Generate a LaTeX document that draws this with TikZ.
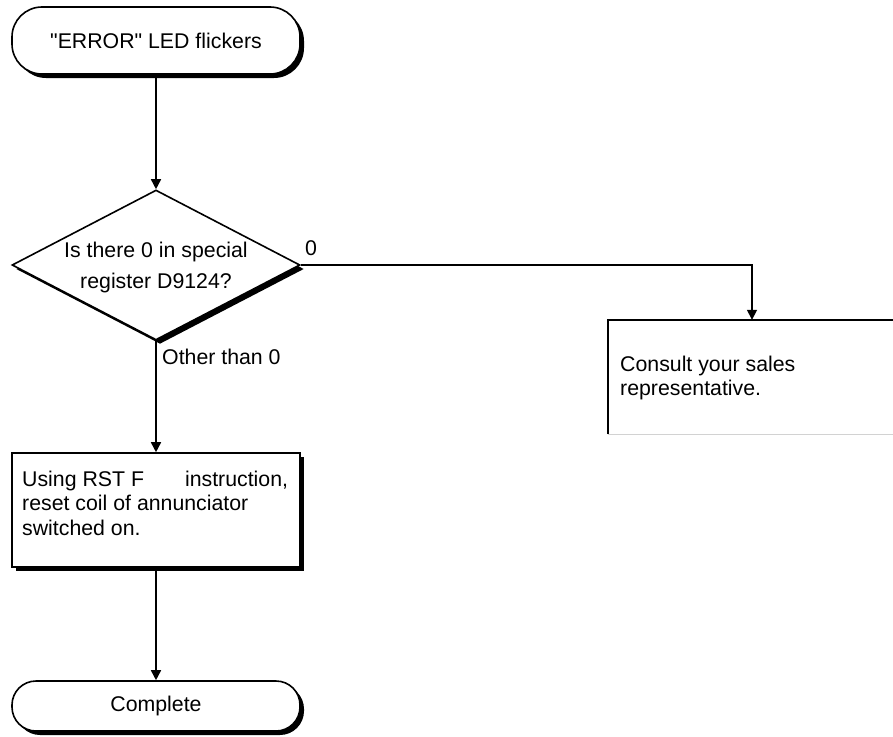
\documentclass[tikz,border=0pt]{standalone}
\usepackage{fontspec}
\setmainfont{Liberation Sans}
\usetikzlibrary{shapes.geometric,shadows,arrows.meta}
\begin{document}
\begin{tikzpicture}[x=1pt,y=-1pt,
  every node/.style={font=\fontsize{21.3}{24.5}\selectfont},
  outl/.style={draw=black,line width=1.6pt,fill=white},
  shad/.style={general shadow={fill=black,shadow xshift=4pt,shadow yshift=-4pt}},
  termbox/.style={outl,shad,rectangle,minimum width=288pt,inner sep=0pt},
  procbox/.style={outl,shad,rectangle,minimum width=288pt,minimum height=114pt,inner sep=0pt},
  decbox/.style={outl,shad,diamond,minimum width=288pt,minimum height=150pt,inner sep=0pt},
  txt/.style={inner sep=0pt,align=left},
  arr/.style={line width=1.6pt,-{Triangle[width=10pt,length=10pt]}}]
\useasboundingbox (0,0) rectangle (893,736);

\node[termbox,minimum height=67pt,rounded corners=30pt] (start) at (156,40.5) {\textquotedbl ERROR\textquotedbl\ LED flickers};
\node[decbox] (dia) at (156,265) {};
\node[txt,align=center,font=\fontsize{21.3}{31}\selectfont] (diatext) at (156,267.5) {Is there 0 in special\\register D9124?};

\node[draw=none,minimum width=288pt,minimum height=114pt,inner sep=0pt] (consult) at (752,377) {};
\draw[line width=1.6pt] (consult.south west) -- (consult.north west) -- (consult.north east);
\draw[gray!35,line width=0.6pt] (consult.south west) -- (consult.south east);
\node[txt,anchor=west] (consulttext) at (620,378) {Consult your sales\\representative.};

\node[procbox] (reset) at (156,510) {};
\node[txt,anchor=west] (resettext) at (22,503) {Using RST F\hspace{41pt}instruction,\\reset coil of annunciator\\switched on.};

\node[termbox,minimum height=50pt,rounded corners=24pt] (done) at (156,706) {Complete};

\draw[arr] (start.south) -- (dia.north);
\draw[arr] (dia.east) -| (consult.north);
\draw[arr] (dia.south) -- (reset.north);
\draw[arr] (reset.south) -- (done.north);

\node[inner sep=0pt] (lzero) at (311,248.5) {0};
\node[inner sep=0pt,anchor=west] (lother) at (162,356.5) {Other than 0};
\end{tikzpicture}
\end{document}
